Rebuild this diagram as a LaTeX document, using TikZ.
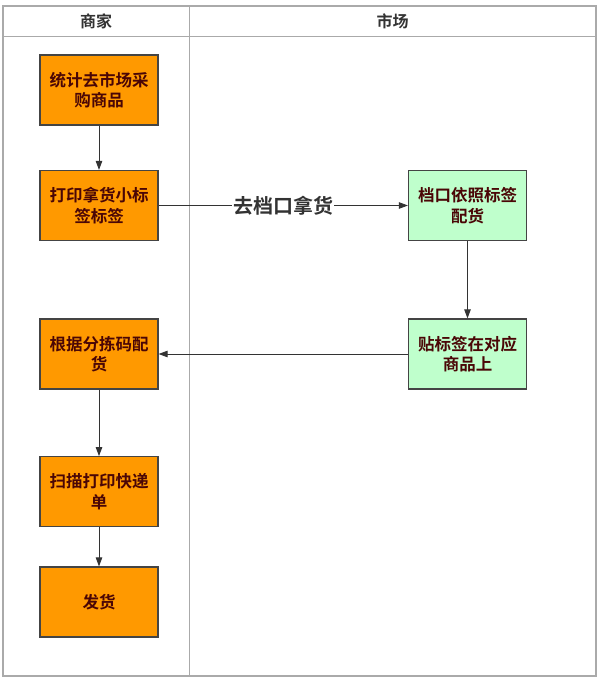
\documentclass[tikz,border=0pt]{standalone}
\usepackage{fontspec}
\setmainfont{Noto Sans CJK SC}[BoldFont={* Bold}]
\usetikzlibrary{arrows.meta}
\definecolor{boxorange}{HTML}{FF9900}
\definecolor{boxgreen}{HTML}{BFFFCC}
\definecolor{boxtext}{HTML}{4A0606}
\definecolor{lanegray}{HTML}{AAAAAA}
\definecolor{darkline}{HTML}{444444}
\definecolor{headtext}{HTML}{333333}
\tikzset{
  procbox/.style={draw=darkline, line width=1.2pt, minimum width=118pt, minimum height=70pt,
    inner sep=0pt, align=center, font=\bfseries\fontsize{16.5}{20.5}\selectfont, text=boxtext},
  obox/.style={procbox, fill=boxorange},
  gbox/.style={procbox, fill=boxgreen},
  flow/.style={draw=headtext, line width=0.9pt, -{Triangle[length=9pt,width=6.5pt]}},
  lane/.style={draw=lanegray, line width=1pt},
  headlbl/.style={font=\bfseries\fontsize{16}{18}\selectfont, text=headtext, inner sep=0pt}
}
\begin{document}
\begin{tikzpicture}[x=1pt,y=-1pt]
\useasboundingbox (0,0) rectangle (599,680);
\fill[white] (0,0) rectangle (599,680);
% swimlanes
\draw[lane, line width=1.4pt] (3,6) rectangle (596,676);
\draw[lane] (3,36) -- (596,36);
\draw[lane] (189,6) -- (189,676);
\node[headlbl] (h1) at (96,21) {商家};
\node[headlbl] (h2) at (392.5,21) {市场};
% nodes
\node[obox] (a) at (99,90) {统计去市场采\\购商品};
\node[obox] (b) at (99,205.5) {打印拿货小标\\签标签};
\node[gbox] (c) at (467.5,205.5) {档口依照标签\\配货};
\node[gbox] (d) at (467.5,354) {贴标签在对应\\商品上};
\node[obox] (e) at (99,354) {根据分拣码配\\货};
\node[obox] (f) at (99,491.7) {扫描打印快递\\单};
\node[obox] (g) at (99,602) {发货};
% connectors
\draw[flow] (a) -- (b);
\draw[flow] (b) -- node[fill=white, inner sep=1pt, font=\bfseries\fontsize{20}{20}\selectfont, text=headtext] (lbl) {去档口拿货} (c);
\draw[flow] (c) -- (d);
\draw[flow] (d) -- (e);
\draw[flow] (e) -- (f);
\draw[flow] (f) -- (g);
\end{tikzpicture}
\end{document}
